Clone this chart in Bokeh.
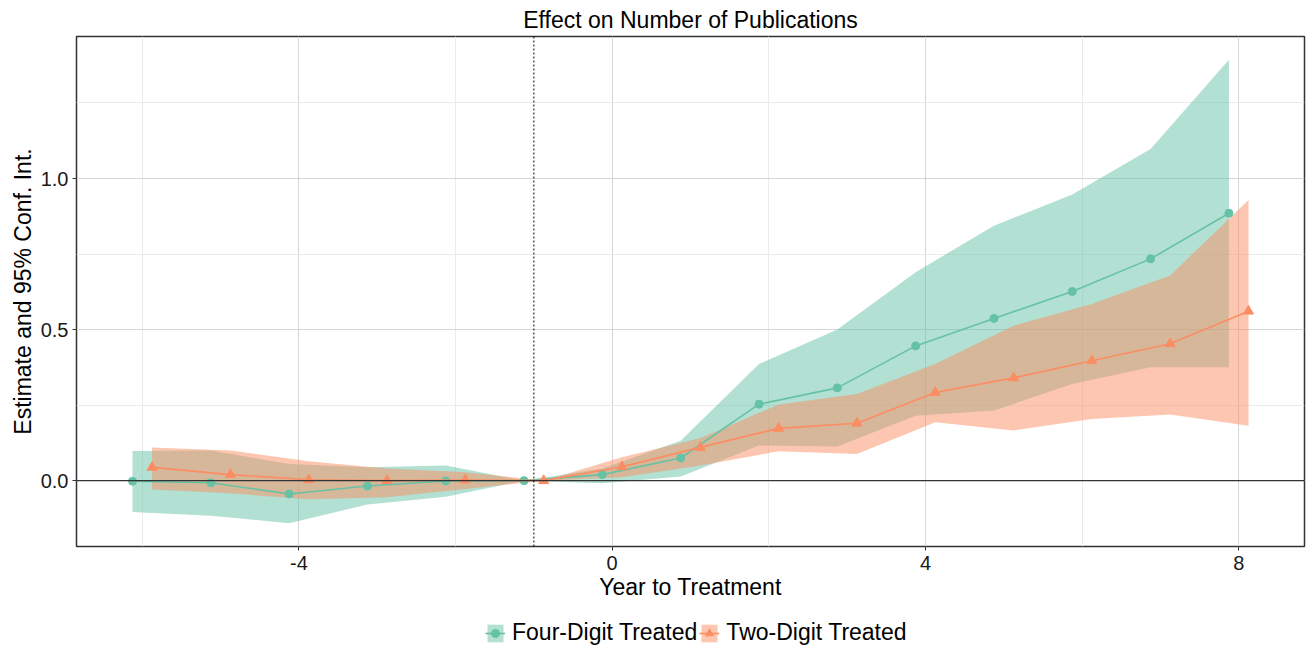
from bokeh.plotting import figure
from bokeh.layouts import column
from bokeh.models import (ColumnDataSource, Range1d, FixedTicker, Span, Legend, LegendItem)
from bokeh.transform import dodge
from bokeh.embed import file_html
from bokeh.resources import INLINE

# ---- data ----
years = [-6, -5, -4, -3, -2, -1, 0, 1, 2, 3, 4, 5, 6, 7, 8]
four_est = [-0.002, -0.007, -0.044, -0.018, -0.001, 0.0, 0.020, 0.075, 0.253, 0.307, 0.446, 0.537, 0.626, 0.734, 0.885]
four_lo = [-0.104, -0.116, -0.141, -0.079, -0.053, 0.0, -0.009, 0.014, 0.116, 0.113, 0.215, 0.232, 0.320, 0.375, 0.375]
four_hi = [0.098, 0.100, 0.055, 0.044, 0.050, 0.0, 0.040, 0.132, 0.386, 0.500, 0.690, 0.844, 0.947, 1.098, 1.393]
two_est = [0.044, 0.020, 0.003, 0.000, 0.002, 0.0, 0.046, 0.110, 0.173, 0.190, 0.292, 0.340, 0.397, 0.453, 0.561]
two_lo = [-0.029, -0.042, -0.062, -0.055, -0.028, 0.0, 0.011, 0.050, 0.097, 0.088, 0.193, 0.166, 0.204, 0.219, 0.182]
two_hi = [0.110, 0.100, 0.064, 0.040, 0.028, 0.0, 0.077, 0.140, 0.252, 0.287, 0.386, 0.513, 0.585, 0.679, 0.929]
x_ticks = [-4, 0, 4, 8]
x_minor = [-6, -2, 2, 6]
y_ticks = [0.0, 0.5, 1.0]
y_minor = [-0.25, 0.25, 0.75, 1.25]
labels = ["Four-Digit Treated", "Two-Digit Treated"]

GREEN = "#66C2A5"
ORANGE = "#FC8D62"
FONT = "Liberation Sans"

src_four = ColumnDataSource(dict(t=years, est=four_est, lo=four_lo, hi=four_hi))
src_two = ColumnDataSource(dict(t=years, est=two_est, lo=two_lo, hi=two_hi))

p = figure(frame_width=1228, frame_height=510, output_backend="svg", toolbar_location=None,
           x_range=Range1d(-6.84, 8.84), y_range=Range1d(-0.218, 1.47),
           min_border_left=76, min_border_right=3, min_border_top=35, min_border_bottom=57)

p.title.text = "Effect on Number of Publications"
p.title.align = "center"
p.title.text_font = FONT
p.title.text_font_size = "23px"
p.title.text_font_style = "normal"
p.title.text_color = "#000000"
p.title.standoff = 8

p.background_fill_color = "white"
p.border_fill_color = "white"
p.outline_line_color = "#333333"
p.outline_line_width = 1.5

xt = FixedTicker(ticks=x_ticks, minor_ticks=x_minor)
yt = FixedTicker(ticks=y_ticks, minor_ticks=y_minor)
p.xaxis.ticker = xt
p.yaxis.ticker = yt
p.xaxis.major_label_overrides = {v: str(v) for v in x_ticks}
p.yaxis.major_label_overrides = {v: "%.1f" % v for v in y_ticks}

for ax in (p.xaxis, p.yaxis):
    ax.axis_line_color = None
    ax.major_tick_line_color = "#333333"
    ax.major_tick_out = 4
    ax.major_tick_in = 0
    ax.minor_tick_line_color = None
    ax.major_label_text_font = FONT
    ax.major_label_text_font_size = "20px"
    ax.major_label_text_color = "#1a1a1a"
    ax.axis_label_text_font = FONT
    ax.axis_label_text_font_size = "23px"
    ax.axis_label_text_font_style = "normal"
    ax.axis_label_text_color = "#000000"

p.xaxis.axis_label = "Year to Treatment"
p.yaxis.axis_label = "Estimate and 95% Conf. Int."
p.xaxis.major_label_standoff = 5
p.yaxis.major_label_standoff = 4
p.xaxis.axis_label_standoff = 1
p.yaxis.axis_label_standoff = 2

p.xgrid.grid_line_color = "#D6D6D6"
p.ygrid.grid_line_color = "#D6D6D6"
p.xgrid.minor_grid_line_color = "#EBEBEB"
p.ygrid.minor_grid_line_color = "#EBEBEB"

hline = Span(location=0, dimension="width", line_color="#333333", line_width=1.2)
vline = Span(location=-1, dimension="height", line_color="#000000", line_width=1, line_dash="2 2")
p.add_layout(hline)
p.add_layout(vline)


def draw(fig, visible=True):
    ra = fig.varea(x=dodge("t", -0.125), y1="lo", y2="hi", source=src_four,
                   fill_color=GREEN, fill_alpha=0.5, visible=visible)
    rb = fig.varea(x=dodge("t", 0.125), y1="lo", y2="hi", source=src_two,
                   fill_color=ORANGE, fill_alpha=0.5, visible=visible)
    rl1 = fig.line(x=dodge("t", -0.125), y="est", source=src_four, line_color=GREEN,
                   line_width=1.6, visible=visible)
    rs1 = fig.scatter(x=dodge("t", -0.125), y="est", source=src_four, marker="circle",
                      size=8, fill_color=GREEN, line_color=GREEN, visible=visible)
    rl2 = fig.line(x=dodge("t", 0.125), y="est", source=src_two, line_color=ORANGE,
                   line_width=1.6, visible=visible)
    rs2 = fig.scatter(x=dodge("t", 0.125), y="est", source=src_two, marker="triangle",
                      size=10, fill_color=ORANGE, line_color=ORANGE, visible=visible)
    return [ra, rl1, rs1], [rb, rl2, rs2]


draw(p)

# legend strip below the plot
lg = figure(width=1307, height=46, output_backend="svg", toolbar_location=None,
            x_range=Range1d(-6.84, 8.84), y_range=Range1d(-0.218, 1.47),
            min_border=0, min_border_left=0, min_border_right=0,
            min_border_top=0, min_border_bottom=0)
lg.xaxis.visible = False
lg.yaxis.visible = False
lg.grid.visible = False
lg.outline_line_color = None
lg.background_fill_color = "white"
lg.border_fill_color = "white"
g_four, g_two = draw(lg, visible=False)

legend = Legend(items=[LegendItem(label=labels[0], renderers=g_four),
                       LegendItem(label=labels[1], renderers=g_two)],
                orientation="horizontal", location=(409, 3), click_policy="none")
legend.label_text_font = FONT
legend.label_text_font_size = "23px"
legend.label_text_color = "#000000"
legend.glyph_width = 20
legend.glyph_height = 22
legend.label_standoff = 7
legend.spacing = 2
legend.padding = 2
legend.margin = 0
legend.border_line_color = None
legend.background_fill_alpha = 0
lg.add_layout(legend, "center")

layout = column(p, lg, spacing=0)
open("out.html", "w").write(file_html(layout, INLINE))
